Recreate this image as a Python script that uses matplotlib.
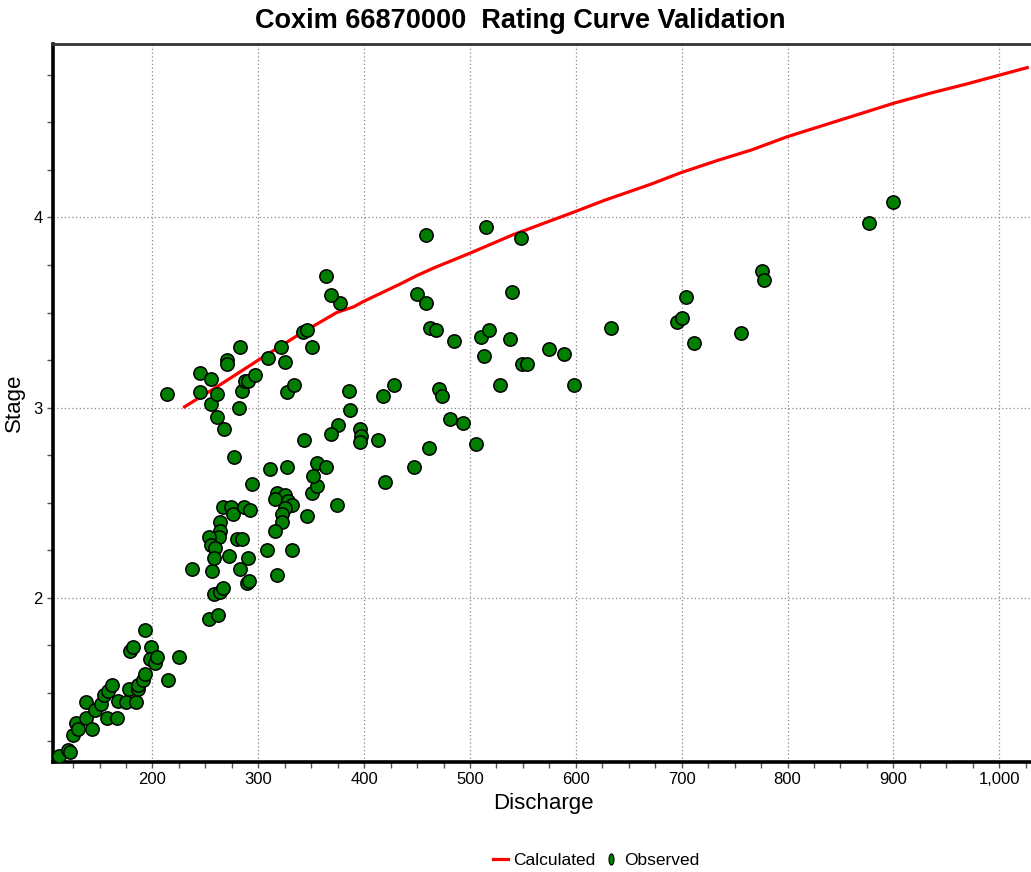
import matplotlib
matplotlib.use("Agg")
import matplotlib.pyplot as plt
import numpy as np
from matplotlib.ticker import MultipleLocator, FuncFormatter
from matplotlib.path import Path
from matplotlib.lines import Line2D

plt.rcParams['font.family'] = ['Liberation Sans', 'DejaVu Sans']

# Calculated rating curve
calc_q = [229, 261, 300, 340, 374, 390, 400, 434, 450, 466, 499, 541, 570, 599,
          627, 671, 699, 734, 766, 800, 900, 936, 968, 998, 1028]
calc_h = [3.00, 3.11, 3.25, 3.39, 3.50, 3.53, 3.56, 3.65, 3.695, 3.735, 3.81, 3.91,
          3.97, 4.03, 4.09, 4.175, 4.235, 4.30, 4.355, 4.425, 4.60, 4.655, 4.70, 4.745, 4.79]

# Observed gaugings
obs_q = [112, 120, 122, 125, 128, 130, 137, 137, 143, 146, 151, 154, 157, 158, 162,
         166, 167, 175, 178, 184, 186, 186, 191, 193, 193, 179, 182, 199, 198, 202,
         204, 215, 225, 237, 253, 262, 256, 258, 264, 267, 283, 289, 291, 318, 294,
         318, 325, 316, 328, 332, 325, 322, 322, 316, 346, 351, 355, 267, 274, 276,
         286, 292, 264, 264, 263, 253, 255, 259, 280, 285, 308, 332, 272, 258, 290,
         355, 364, 352, 311, 327, 374, 277, 420, 447, 461, 413, 396, 397, 396, 375,
         369, 343, 268, 261, 282, 255, 214, 245, 261, 285, 245, 255, 287, 290, 297,
         270, 270, 283, 309, 321, 325, 327, 334, 342, 346, 351, 386, 387, 418, 428,
         471, 474, 481, 493, 506, 377, 369, 364, 458, 450, 458, 462, 468, 515, 548,
         540, 485, 510, 518, 538, 513, 549, 554, 575, 589, 633, 696, 700, 704, 712,
         528, 598, 756, 776, 778, 877, 900]
obs_h = [1.17, 1.20, 1.19, 1.28, 1.34, 1.31, 1.45, 1.37, 1.31, 1.41, 1.44, 1.49, 1.37, 1.51, 1.54,
         1.37, 1.46, 1.45, 1.52, 1.45, 1.52, 1.54, 1.57, 1.60, 1.83, 1.72, 1.74, 1.74, 1.68, 1.66,
         1.69, 1.57, 1.69, 2.15, 1.89, 1.91, 2.14, 2.02, 2.03, 2.05, 2.15, 2.08, 2.09, 2.12, 2.60,
         2.55, 2.54, 2.52, 2.51, 2.49, 2.47, 2.44, 2.40, 2.35, 2.43, 2.55, 2.59, 2.48, 2.48, 2.44,
         2.48, 2.46, 2.40, 2.35, 2.32, 2.32, 2.28, 2.26, 2.31, 2.31, 2.25, 2.25, 2.22, 2.21, 2.21,
         2.71, 2.69, 2.64, 2.68, 2.69, 2.49, 2.74, 2.61, 2.69, 2.79, 2.83, 2.89, 2.85, 2.82, 2.91,
         2.86, 2.83, 2.89, 2.95, 3.00, 3.02, 3.07, 3.08, 3.07, 3.09, 3.18, 3.15, 3.14, 3.14, 3.17,
         3.25, 3.23, 3.32, 3.26, 3.32, 3.24, 3.08, 3.12, 3.40, 3.41, 3.32, 3.09, 2.99, 3.06, 3.12,
         3.10, 3.06, 2.94, 2.92, 2.81, 3.55, 3.59, 3.69, 3.91, 3.60, 3.55, 3.42, 3.41, 3.95, 3.89,
         3.61, 3.35, 3.37, 3.41, 3.36, 3.27, 3.23, 3.23, 3.31, 3.28, 3.42, 3.45, 3.47, 3.58, 3.34,
         3.12, 3.12, 3.39, 3.72, 3.67, 3.97, 4.08]

x_ticks = [200, 300, 400, 500, 600, 700, 800, 900, 1000]
y_ticks = [2, 3, 4]

fig = plt.figure(figsize=(10.31, 8.72), dpi=100)
ax = fig.add_axes([53/1031, 1 - 762/872, 1 - 53/1031 + 0.002, (762 - 44)/872])

ax.plot(calc_q, calc_h, color='#ff0000', lw=2.3, zorder=3, solid_capstyle='butt')
ax.scatter(obs_q, obs_h, s=92, c='#007f00', edgecolors='black', linewidths=1.1, zorder=4)

ax.set_xlim(106, 1032)
ax.set_ylim(1.137, 4.912)
ax.set_xticks(x_ticks)
ax.set_yticks(y_ticks)
ax.xaxis.set_minor_locator(MultipleLocator(25))
ax.yaxis.set_minor_locator(MultipleLocator(0.25))
ax.xaxis.set_major_formatter(FuncFormatter(lambda v, p: f"{v:,.0f}"))
ax.yaxis.set_major_formatter(FuncFormatter(lambda v, p: f"{v:.0f}"))

ax.grid(True, which='major', linestyle=(0, (1, 2)), color='#888888', lw=0.9)
ax.tick_params(which='both', direction='out', length=4, width=1, color='#555555',
               labelsize=12, labelcolor='black')

for side in ['left', 'bottom']:
    ax.spines[side].set_linewidth(2.6)
    ax.spines[side].set_color('black')
ax.spines['top'].set_linewidth(2.0)
ax.spines['top'].set_color('#333333')
ax.spines['right'].set_visible(False)

ax.set_xlabel('Discharge', fontsize=16, labelpad=4)
ax.set_ylabel('Stage', fontsize=16, labelpad=6)

fig.text(0.505, 0.976, 'Coxim 66870000  Rating Curve Validation', ha='center', va='center',
         fontsize=19.5, fontweight='bold')

# legend
theta = np.linspace(0, 2 * np.pi, 60)
ell = Path(np.column_stack([0.45 * np.cos(theta), np.sin(theta)]), closed=True)
handles = [Line2D([0], [0], color='#ff0000', lw=2.3),
           Line2D([0], [0], marker=ell, color='none', markerfacecolor='#007f00',
                  markeredgecolor='black', markeredgewidth=0.8, markersize=8)]
fig.legend(handles, ['Calculated', 'Observed'], loc='center', bbox_to_anchor=(0.578, 0.013),
           ncol=2, frameon=False, fontsize=12.5, handlelength=0.85, handletextpad=0.3,
           columnspacing=0.5)

fig.savefig('out.png', dpi=100)
